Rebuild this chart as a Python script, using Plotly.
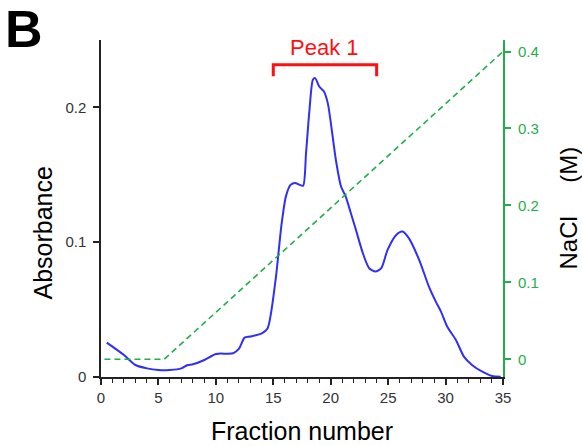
import plotly.graph_objects as go

# ---- data ----
fraction = [0.5, 1.0, 2.0, 3.0, 4.0, 5.0, 6.0, 7.0, 7.5, 8.0, 9.0, 10.0, 11.0, 11.5,
            12.0, 12.5, 13.0, 14.0, 14.5, 15.2, 15.7, 16.1, 16.5, 16.9, 17.3, 17.6,
            17.85, 18.15, 18.45, 18.65, 19.0, 19.4, 19.75, 20.05, 20.45, 20.9, 21.3,
            21.75, 22.2, 22.8, 23.35, 23.9, 24.4, 24.95, 25.7, 26.25, 26.8, 27.7,
            28.55, 29.15, 29.6, 30.15, 30.9, 31.6, 32.3, 33.2, 34.05, 34.8]
absorbance = [0.0255, 0.0225, 0.0163, 0.0089, 0.0064, 0.0052, 0.0052, 0.0064, 0.0087,
              0.0094, 0.0126, 0.0171, 0.0173, 0.0176, 0.0208, 0.0292, 0.0300, 0.0324,
              0.0360, 0.0720, 0.1120, 0.1340, 0.1425, 0.1440, 0.1425, 0.1420, 0.1660,
              0.1980, 0.2205, 0.2217, 0.2155, 0.2120, 0.2030, 0.1860, 0.1610, 0.1413,
              0.1340, 0.1217, 0.1090, 0.0918, 0.0807, 0.0782, 0.0807, 0.0943, 0.1054,
              0.1079, 0.1030, 0.0869, 0.0670, 0.0559, 0.0485, 0.0373, 0.0275, 0.0151,
              0.0089, 0.0039, 0.0007, 0.0002]

nacl_fraction = [0.3, 5.5, 35.0]
nacl_conc = [0.0, 0.0, 0.4]

peak_label = "Peak 1"
peak_start, peak_end = 15.0, 24.0
peak_bar_y, peak_tick_y, peak_text_y = 0.2316, 0.2232, 0.2445

x_ticks = [0, 5, 10, 15, 20, 25, 30, 35]
y_ticks = [0, 0.1, 0.2]
y2_ticks = [0, 0.1, 0.2, 0.3, 0.4]

FONT = "Liberation Sans, Arial, sans-serif"
BLUE = "#2f2ff8"
GREEN = "#1fae4a"
RED = "#ff1010"
DARK = "#222222"

fig = go.Figure()
fig.add_trace(go.Scatter(x=fraction, y=absorbance, mode="lines",
                         line=dict(color=BLUE, width=2, shape="spline", smoothing=0.7),
                         yaxis="y", showlegend=False, hoverinfo="skip"))
fig.add_trace(go.Scatter(x=nacl_fraction, y=nacl_conc, mode="lines",
                         line=dict(color=GREEN, width=1.6, dash="6px,4px"),
                         yaxis="y2", showlegend=False, hoverinfo="skip"))

# Peak bracket
fig.add_shape(type="path", xref="x", yref="y",
              path=f"M {peak_start} {peak_tick_y} L {peak_start} {peak_bar_y} "
                   f"L {peak_end} {peak_bar_y} L {peak_end} {peak_tick_y}",
              line=dict(color=RED, width=3))
fig.add_annotation(x=(peak_start + peak_end) / 2, y=peak_text_y, xref="x", yref="y",
                   text=peak_label, showarrow=False,
                   font=dict(family=FONT, size=22, color=RED))

# Axis titles as annotations
fig.add_annotation(x=0, y=0.5, xref="paper", yref="paper", xshift=-59, yshift=-25,
                   xanchor="center", yanchor="middle",
                   text="Absorbance", textangle=-90, showarrow=False,
                   font=dict(family=FONT, size=25, color="black"))
fig.add_annotation(x=1, y=0.5, xref="paper", yref="paper", xshift=65,
                   xanchor="center", yanchor="middle",
                   text="NaCl\u00a0\u00a0\u00a0\u00a0\u00a0(M)", textangle=-90, showarrow=False,
                   font=dict(family=FONT, size=24, color="black"))
fig.add_annotation(x=0.5, y=0, xref="paper", yref="paper", yshift=-53.5,
                   xanchor="center", yanchor="middle",
                   text="Fraction number", showarrow=False,
                   font=dict(family=FONT, size=25, color="black"))
fig.add_annotation(x=0, y=1, xref="paper", yref="paper", xshift=-98, yshift=42,
                   xanchor="left", yanchor="top",
                   text="<b>B</b>", showarrow=False,
                   font=dict(family=FONT, size=52, color="black"))

fig.update_layout(
    width=582, height=446,
    margin=dict(l=101, r=79, t=40, b=69),
    paper_bgcolor="white", plot_bgcolor="white",
    xaxis=dict(range=[0, 35], tickvals=x_ticks, showgrid=False, zeroline=False,
               showline=True, linecolor=DARK, linewidth=1.5,
               ticks="outside", ticklen=6, tickwidth=1.5, tickcolor=DARK,
               tickfont=dict(family=FONT, size=15, color="#333333"),
               minor=dict(dtick=1, ticks="outside", ticklen=4, tickwidth=1.2, tickcolor=DARK),
               automargin=False, fixedrange=True),
    yaxis=dict(range=[0, 0.25], tickvals=y_ticks, ticktext=["0", "0.1", "0.2"],
               showgrid=False, zeroline=False,
               showline=True, linecolor=DARK, linewidth=1.5,
               ticks="outside", ticklen=6, tickwidth=1.5, tickcolor=DARK,
               ticklabelstandoff=4,
               tickfont=dict(family=FONT, size=15, color="#333333"),
               automargin=False, fixedrange=True),
    yaxis2=dict(range=[-0.023, 0.415], tickvals=y2_ticks,
                ticktext=["0", "0.1", "0.2", "0.3", "0.4"],
                overlaying="y", side="right", anchor="x",
                showgrid=False, zeroline=False,
                showline=True, linecolor=GREEN, linewidth=2,
                ticks="outside", ticklen=6, tickwidth=2, tickcolor=GREEN,
                ticklabelstandoff=4,
                tickfont=dict(family=FONT, size=15, color=GREEN),
                automargin=False, fixedrange=True),
)

fig.write_html("out.html", config={"displayModeBar": False},
               post_script="document.body.style.margin='0';document.body.style.padding='0';")
